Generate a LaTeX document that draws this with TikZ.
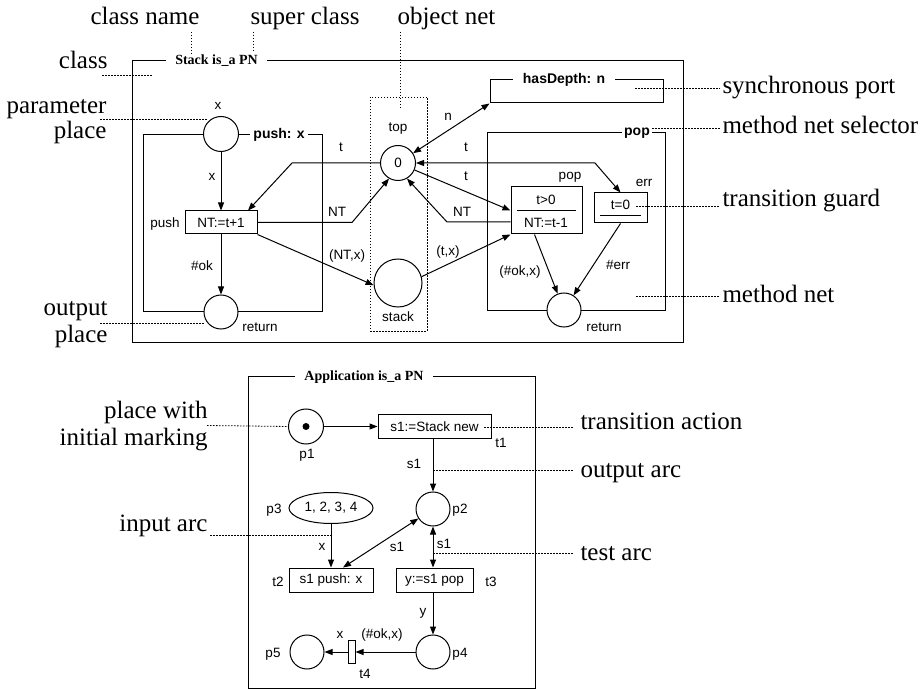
\documentclass[tikz,border=0pt]{standalone}
\usepackage{fontspec}
\setmainfont{Liberation Serif}
\setsansfont{Liberation Sans}
\usetikzlibrary{arrows.meta,shapes.geometric,calc}
\begin{document}
\begin{tikzpicture}[x=1pt,y=-1pt,line width=1pt,
 lbl/.style={font=\sffamily\fontsize{13.5}{15}\selectfont,inner sep=0pt},
 ann/.style={font=\fontsize{25}{28}\selectfont,inner sep=0pt},
 ttl/.style={font=\bfseries\fontsize{14}{16}\selectfont,fill=white,inner ysep=2pt,inner xsep=9pt},
 sttl/.style={font=\sffamily\bfseries\fontsize{14}{16}\selectfont,fill=white,inner ysep=2pt,inner xsep=3pt},
 pnplace/.style={circle,draw,fill=white,inner sep=0pt,minimum size=#1,font=\sffamily\fontsize{13.5}{15}\selectfont},
 pnplace/.default=34pt,
 pntrans/.style={rectangle,draw,fill=white,inner sep=0pt,font=\sffamily\fontsize{13.5}{15}\selectfont},
 netbox/.style={rectangle,draw,inner sep=0pt},
 pnarc/.style={-{Triangle[length=8pt,width=6pt]}},
 pnboth/.style={{Triangle[length=8pt,width=6pt]}-{Triangle[length=8pt,width=6pt]}},
 dots/.style={line width=0.8pt,dash pattern=on 1.5pt off 1.5pt},
]
\useasboundingbox (0,0) rectangle (924,692);

% ---------------- Stack class ----------------
\node[netbox,minimum width=551pt,minimum height=282pt] (stackcls) at (407.5,202) {};
\node[ttl] (stackttl) at (216.5,61) {Stack is\_a PN};

% object net (dotted region)
\draw[dots] (370,97) rectangle (427,331);

% synchronous port
\node[netbox,minimum width=173pt,minimum height=23pt] (hdbox) at (576.5,91.5) {};
\node[sttl,inner xsep=10pt] (hdttl) at (564,80) {hasDepth: n};

% push method net
\node[netbox,minimum width=179pt,minimum height=177pt] (pushnet) at (232.5,223.5) {};
\node[pnplace=35pt] (xp) at (221,134) {};
\node[pnplace] (ret1) at (221,312) {};
\node[sttl] (pushsel) at (279,135) {push: x};
\node[pntrans,minimum width=72pt,minimum height=23pt] (push) at (221,222.5) {NT:=t+1};

% pop method net
\node[netbox,minimum width=178pt,minimum height=178pt] (popnet) at (576,222) {};
\node[sttl,inner xsep=2pt] (popsel) at (637,133) {pop};
\node[pntrans,minimum width=71pt,minimum height=47pt] (pop) at (546.5,210.5) {};
\draw (517,211) -- (576,211);
\node[lbl] (popg) at (546,200) {t>0};
\node[lbl] (popa) at (546,223) {NT:=t-1};
\node[pntrans,minimum width=53pt,minimum height=30pt] (err) at (620.5,208) {};
\node[lbl] (errg) at (620.5,205) {t=0};
\draw (600,216) -- (641,216);
\node[pnplace] (ret2) at (564,310) {};

% object net places
\node[pnplace=35pt] (top0) at (398,163) {0};
\node[pnplace=48pt] (stack) at (398,283) {};

% arcs
\draw[pnarc] (xp) -- (push);
\draw[pnarc] (push) -- (ret1);
\draw[pnarc] (top0.west) -- (292,163) -- ([xshift=27pt]push.north);
\draw[pnarc] (push.east) -- (352,222.5) -- (top0.240);
\draw[pnarc] (push.south east) -- (stack.185);
\draw[pnarc] (stack.15) -- (pop.south west);
\draw[pnboth] (top0) -- (hdbox.south west);
\draw[pnarc] (top0) -- (pop.west);
\draw[pnboth] (top0.east) -- (595,163) -- (err.north);
\draw[pnarc] ([yshift=-11.5pt]pop.west) -- (447,222) -- (top0.300);
\draw[pnarc] ([xshift=24pt]pop.south west) -- (ret2);
\draw[pnarc] (err.south) -- (ret2);

% labels
\node[lbl] at (218,106) {x};
\node[lbl] at (212,177) {x};
\node[lbl] at (165,224) {push};
\node[lbl] at (202,266) {\#ok};
\node[lbl] at (260,327) {return};
\node[lbl] at (341,147) {t};
\node[lbl] at (337,212) {NT};
\node[lbl] at (347,256) {(NT,x)};
\node[lbl] at (398,129) {top};
\node[lbl] at (448,117) {n};
\node[lbl] at (466,147) {t};
\node[lbl] at (466,176) {t};
\node[lbl] at (462,212) {NT};
\node[lbl] at (448,252) {(t,x)};
\node[lbl] at (398,317) {stack};
\node[lbl] at (570,177) {pop};
\node[lbl] at (644,183) {err};
\node[lbl] at (520,272) {(\#ok,x)};
\node[lbl] at (618,265) {\#err};
\node[lbl] at (604,327) {return};

% ---------------- Application class ----------------
\node[netbox,minimum width=287pt,minimum height=311pt] (appcls) at (391.5,532.5) {};
\node[ttl] (appttl) at (364,377) {Application is\_a PN};

\node[pnplace=35pt] (p1) at (306,426.5) {};
\fill (p1) circle (3.5pt);
\node[pntrans,minimum width=113pt,minimum height=24pt] (t1) at (434.5,426.5) {s1:=Stack new};
\node[pnplace] (p2) at (433,509) {};
\node[ellipse,draw,fill=white,minimum width=84pt,minimum height=31pt,inner sep=0pt,font=\sffamily\fontsize{13.5}{15}\selectfont] (p3) at (331,508) {1, 2, 3, 4};
\node[pntrans,minimum width=84pt,minimum height=24pt] (t2) at (331,580) {s1 push: x};
\node[pntrans,minimum width=77pt,minimum height=24pt] (t3) at (434.5,580) {y:=s1 pop};
\node[pnplace] (p4) at (433,652) {};
\node[pntrans,minimum width=7pt,minimum height=23pt] (t4) at (351.5,652) {};
\node[pnplace] (p5) at (307,652) {};

\draw[pnarc] (p1) -- (t1);
\draw[pnarc] (p2 |- t1.south) -- (p2);
\draw[pnarc] (p3) -- (t2);
\draw[pnboth] ([xshift=12pt]t2.north) -- (p2);
\draw[pnboth] (p2) -- (p2 |- t3.north);
\draw[pnarc] (p2 |- t3.south) -- (p4);
\draw[pnarc] (p4) -- (t4);
\draw[pnarc] (t4) -- (p5);

\node[lbl] at (307,455) {p1};
\node[lbl] at (501,443) {t1};
\node[lbl] at (414,464) {s1};
\node[lbl] at (274,510) {p3};
\node[lbl] at (460,510) {p2};
\node[lbl] at (322,547) {x};
\node[lbl] at (397,547) {s1};
\node[lbl] at (444,544) {s1};
\node[lbl] at (278,582) {t2};
\node[lbl] at (491,582) {t3};
\node[lbl] at (423,613) {y};
\node[lbl] at (340,635) {x};
\node[lbl] at (382,635) {(\#ok,x)};
\node[lbl] at (273,654) {p5};
\node[lbl] at (460,654) {p4};
\node[lbl] at (365,674) {t4};

% ---------------- annotations ----------------
\node[ann,anchor=base west] (aclassname) at (90,25) {class name};
\node[ann,anchor=base west] (asuper) at (250,25) {super class};
\node[ann,anchor=base west] (aobj) at (397,25) {object net};
\draw[dots] (191,32) -- (191,55);
\draw[dots] (253,32) -- (253,52);
\draw[dots] (400,32) -- (400,108);

\node[ann,anchor=base east] (aclass) at (108,69) {class};
\draw[dots] (102,75) -- (152,75);
\node[ann,anchor=base east] (apar1) at (107,114) {parameter};
\node[ann,anchor=base east] (apar2) at (107,139) {place};
\draw[dots] (100,119) -- (207,119);
\node[ann,anchor=base east] (aout1) at (108,316) {output};
\node[ann,anchor=base east] (aout2) at (108,343) {place};
\draw[dots] (100,323) -- (205,323);

\node[ann,anchor=base west] (async) at (722,94) {synchronous port};
\draw[dots] (635,88) -- (720,88);
\node[ann,anchor=base west] (asel) at (722,134) {method net selector};
\draw[dots] (652,128) -- (720,128);
\node[ann,anchor=base west] (aguard) at (722,207) {transition guard};
\draw[dots] (636,206) -- (720,206);
\node[ann,anchor=base west] (amnet) at (722,303) {method net};
\draw[dots] (636,296) -- (720,296);

\node[ann,anchor=base east] (apw1) at (208,419) {place with};
\node[ann,anchor=base east] (apw2) at (208,446) {initial marking};
\draw[dots] (207,425.5) -- (p1.west);
\node[ann,anchor=base east] (ain) at (208,531) {input arc};
\draw[dots] (210,535) -- (331,535);

\node[ann,anchor=base west] (aact) at (580,430) {transition action};
\draw[dots] (484,427) -- (573,427);
\node[ann,anchor=base west] (aoarc) at (580,477) {output arc};
\draw[dots] (433,470) -- (573,470);
\node[ann,anchor=base west] (atest) at (580,560) {test arc};
\draw[dots] (433,553) -- (573,553);
\end{tikzpicture}
\end{document}
